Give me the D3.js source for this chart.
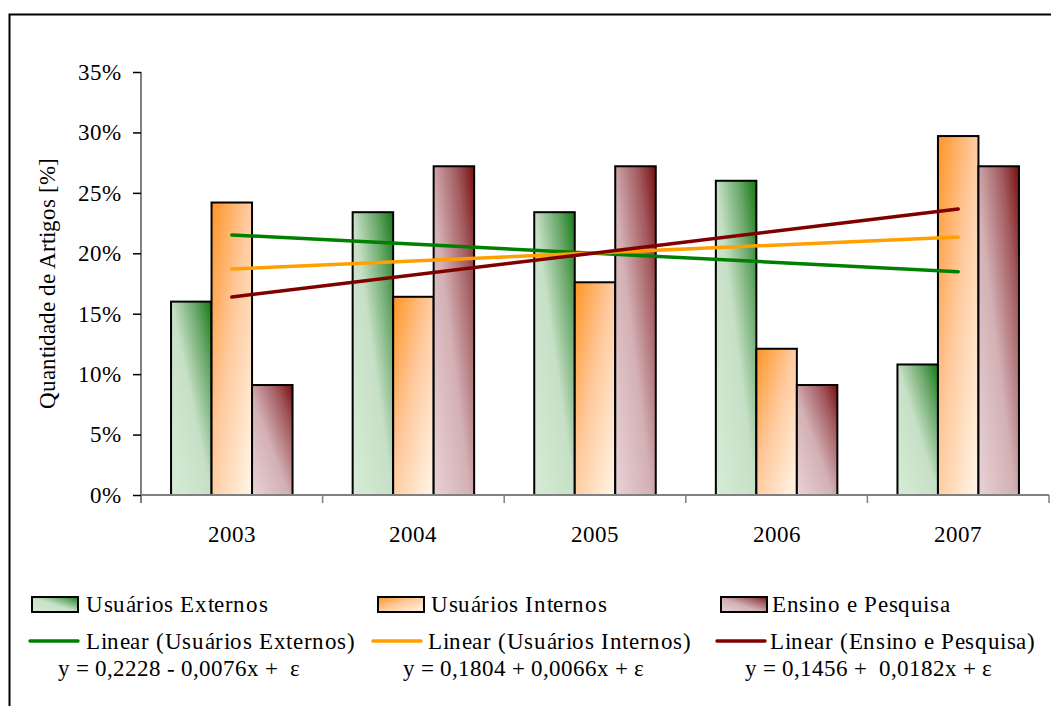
<!DOCTYPE html>
<html><head><meta charset="utf-8">
<script src="https://cdn.jsdelivr.net/npm/d3@7"></script>
<style>
@font-face{font-family:"ChartSerif";src:local("Liberation Serif"),local("LiberationSerif"),local("LiberationSerif-Regular"),local("DejaVu Serif"),local("DejaVuSerif");}
html,body{margin:0;padding:0;background:#fff;}
svg{display:block;}
svg text{font-family:"ChartSerif","Liberation Serif",serif;}
</style></head>
<body>
<svg id="c" width="1051" height="706"></svg>
<script>
const years = ["2003","2004","2005","2006","2007"];
const seriesNames = ["Usuários Externos","Usuários Internos","Ensino e Pesquisa"];
const externos = [0.160, 0.234, 0.234, 0.260, 0.108];
const internos = [0.242, 0.164, 0.176, 0.121, 0.297];
const ensino   = [0.091, 0.272, 0.272, 0.091, 0.272];
const trendIntercept = [0.2228, 0.1804, 0.1456];
const trendSlope     = [-0.0076, 0.0066, 0.0182];
const equations = ["y = 0,2228 - 0,0076x +  ε","y = 0,1804 + 0,0066x + ε","y = 0,1456 +  0,0182x + ε"];
const yTicks = [0,0.05,0.10,0.15,0.20,0.25,0.30,0.35];
const yTitle = "Quantidade de Artigos [%]";

const values = [externos, internos, ensino];
const svg = d3.select("#c");

const defs = svg.append("defs");
const grads = [
  {id:"gE", x1:0,y1:1,x2:1,y2:0, stops:[[0,"#d6ebd6"],[0.5,"#c6e0c6"],[0.78,"#6aa86a"],[1,"#137a13"]]},
  {id:"gI", x1:0,y1:0,x2:1,y2:1, stops:[[0,"#ff9426"],[0.45,"#ffc89a"],[1,"#fff7ea"]]},
  {id:"gP", x1:0,y1:1,x2:1,y2:0, stops:[[0,"#e8d2d6"],[0.45,"#d3b0b4"],[0.78,"#a25a5e"],[1,"#780e0e"]]}
];
grads.forEach(g=>{
  const lg = defs.append("linearGradient").attr("id",g.id)
    .attr("x1",g.x1).attr("y1",g.y1).attr("x2",g.x2).attr("y2",g.y2);
  g.stops.forEach(s=>lg.append("stop").attr("offset",s[0]).attr("stop-color",s[1]));
});
const fills = ["url(#gE)","url(#gI)","url(#gP)"];
const lineColors = ["#008000","#ffa000","#800000"];

svg.append("path").attr("d","M9.5,706 L9.5,14.5 L1051,14.5").attr("fill","none").attr("stroke","#000").attr("stroke-width",2);

const x = d3.scaleBand().domain(years).range([141,1049]);
const y = d3.scaleLinear().domain([0,0.35]).range([495,72]);
const groupW = 121.5;
const sub = d3.scaleBand().domain([0,1,2]).range([(x.bandwidth()-groupW)/2,(x.bandwidth()+groupW)/2]);

values.forEach((vals,si)=>{
  svg.append("g").selectAll("rect").data(vals).join("rect")
    .attr("x",(d,i)=>x(years[i])+sub(si))
    .attr("y",d=>y(d))
    .attr("width",sub.bandwidth())
    .attr("height",d=>y(0)-y(d))
    .attr("fill",fills[si])
    .attr("stroke","#000").attr("stroke-width",2);
});

const yAxis = svg.append("g").attr("transform","translate(141,0)")
  .call(d3.axisLeft(y).tickValues(yTicks).tickFormat(d=>Math.round(d*100)+"%").tickSize(8).tickPadding(12));
const xAxis = svg.append("g").attr("transform","translate(0,495)")
  .call(d3.axisBottom(x).tickSize(0).tickPadding(31));
svg.append("g").selectAll("line").data(years).join("line")
  .attr("x1",d=>x(d)+x.bandwidth()).attr("x2",d=>x(d)+x.bandwidth())
  .attr("y1",495).attr("y2",503).attr("stroke","#808080").attr("stroke-width",1.5);
[yAxis,xAxis].forEach(a=>{
  a.attr("font-family",null).attr("font-size",23);
  a.select(".domain").attr("stroke","#808080").attr("stroke-width",2);
  a.selectAll(".tick line").attr("stroke","#000").attr("stroke-width",1.5);
  a.selectAll("text").attr("font-size",23).attr("fill","#000");
});
xAxis.select(".domain").attr("d","M141,0H1049");
yAxis.select(".domain").attr("d","M0,72H0V503");

svg.append("text").attr("transform","translate(55,283) rotate(-90)")
  .attr("text-anchor","middle").attr("font-size",23).text(yTitle);

const xi = d3.scaleLinear().domain([1,5]).range([x(years[0])+x.bandwidth()/2, x(years[4])+x.bandwidth()/2]);
trendIntercept.forEach((a,si)=>{
  const b = trendSlope[si];
  svg.append("line")
    .attr("x1",xi(1)).attr("y1",y(a+b*1))
    .attr("x2",xi(5)).attr("y2",y(a+b*5))
    .attr("stroke",lineColors[si]).attr("stroke-width",3.5).attr("stroke-linecap","round");
});

const legX = [32,378,721];
const legTX = [86,431,772];
seriesNames.forEach((n,si)=>{
  svg.append("rect").attr("x",legX[si]).attr("y",597).attr("width",46).attr("height",15)
    .attr("fill",fills[si]).attr("stroke","#000").attr("stroke-width",2);
  svg.append("text").attr("x",legTX[si]).attr("y",612).attr("font-size",23).attr("letter-spacing",0.6).text(n);
});
const lineX = [30,373,717];
const lineTX = [86,428,770];
seriesNames.forEach((n,si)=>{
  svg.append("line").attr("x1",lineX[si]).attr("x2",lineX[si]+48).attr("y1",641).attr("y2",641)
    .attr("stroke",lineColors[si]).attr("stroke-width",3.5).attr("stroke-linecap","round");
  svg.append("text").attr("x",lineTX[si]).attr("y",649).attr("font-size",23).attr("letter-spacing",0.6).text("Linear ("+n+")");
});
const eqX = [58,403,745];
equations.forEach((e,si)=>{
  svg.append("text").attr("x",eqX[si]).attr("y",676).attr("font-size",23).attr("xml:space","preserve").text(e);
});
</script>
</body></html>
